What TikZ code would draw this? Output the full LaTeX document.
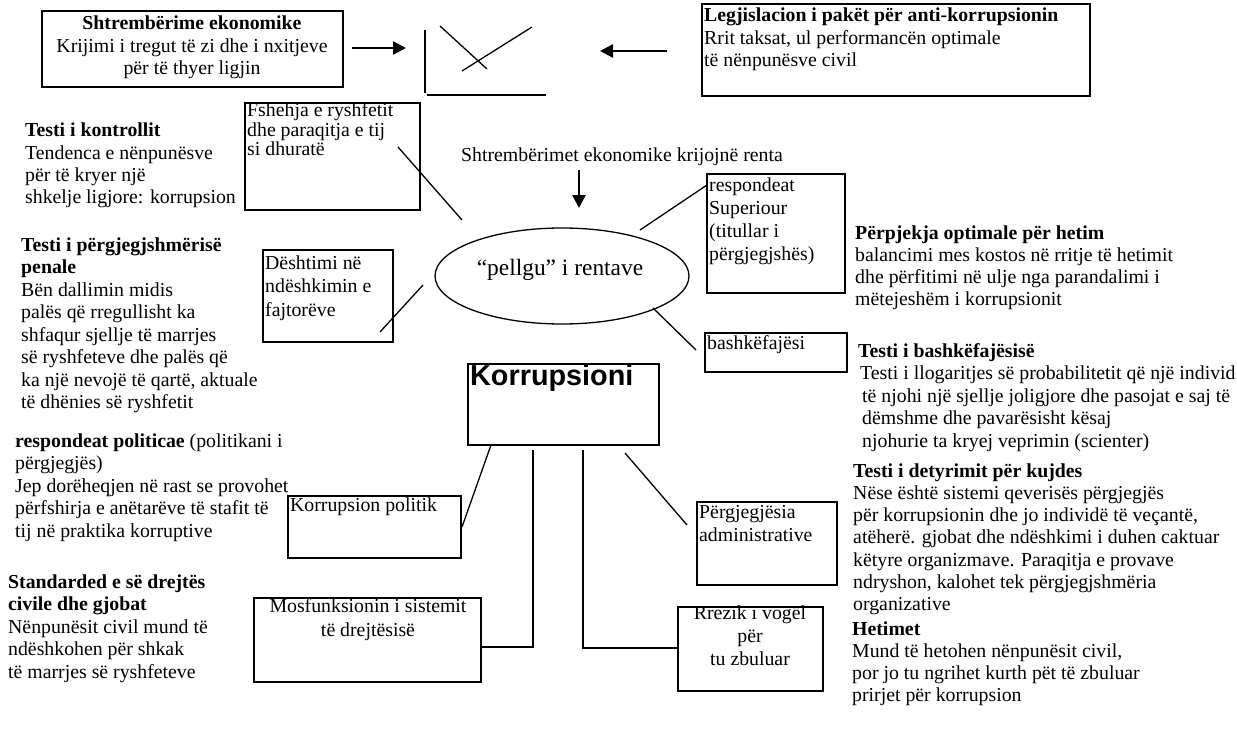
\documentclass[tikz,border=0pt]{standalone}
\usepackage{fontspec}
\setmainfont{Liberation Serif}
\newfontfamily\lsans{Liberation Sans}
\usetikzlibrary{shapes.geometric, arrows.meta, fit}
\newcommand{\tl}[2][22.3]{\vtop{\baselineskip=#1pt\relax\halign{##\hfil\cr#2\crcr}}}
\newcommand{\tc}[2][22.3]{\vtop{\baselineskip=#1pt\relax\halign{\hfil##\hfil\cr#2\crcr}}}
\tikzset{
  bx/.style={draw, line width=1.5pt, inner sep=0pt, rectangle},
  conn/.style={line width=1.3pt},
  txt/.style={inner sep=0pt, anchor=base west, font=\fontsize{19.8}{22.3}\selectfont},
  txtc/.style={inner sep=0pt, anchor=base, font=\fontsize{19.8}{22.3}\selectfont},
  bigarrow/.style={line width=2.6pt, -{Triangle[length=13pt,width=13pt]}},
}
\begin{document}
\begin{tikzpicture}[x=1pt,y=-1pt]
\useasboundingbox (0,0) rectangle (1237,733);

% ---------- top row ----------
\node[bx, fit={(42,11)(343,87)}] (shtr) {};
\node[txtc] (shtrT) at (192,30) {\tc[22.5]{\textbf{Shtrembërime ekonomike}\cr Krijimi i tregut të zi dhe i nxitjeve\cr për të thyer ligjin}};

\node[bx, fit={(702,4)(1090,96)}] (legj) {};
\node[txt] (legjT) at (704,22) {\tl[22.5]{\textbf{Legjislacion i pakët për anti-korrupsionin}\cr Rrit taksat, ul performancën optimale\cr të nënpunësve civil}};

\coordinate (a1s) at (352,48); \coordinate (a1e) at (406,48);
\draw[bigarrow] (a1s) -- (a1e);
\coordinate (a2s) at (667,51); \coordinate (a2e) at (600,51);
\draw[bigarrow] (a2s) -- (a2e);

% chart
\coordinate (ch0) at (425,30); \coordinate (ch1) at (425,93);
\coordinate (ch2) at (427,95); \coordinate (ch3) at (546,95);
\coordinate (la1) at (440,26); \coordinate (la2) at (487,69);
\coordinate (lb1) at (462,71); \coordinate (lb2) at (532,27);
\draw[conn] (ch0) -- (ch1);
\draw[conn] (ch2) -- (ch3);
\draw[conn] (la1) -- (la2);
\draw[conn] (lb1) -- (lb2);

% ---------- centre ----------
\node[bx, fit={(245,103)(420,210)}] (fsh) {};
\node[txt] (fshT) at (247,117) {\tl[19.5]{Fshehja e ryshfetit\cr dhe paraqitja e tij\cr si dhuratë}};

\node[txtc] (rentaT) at (622,161) {Shtrembërimet ekonomike krijojnë renta};
\coordinate (a3s) at (579,170); \coordinate (a3e) at (579,208);
\draw[bigarrow] (a3s) -- (a3e);

\node[draw, ellipse, line width=1.3pt, inner sep=0pt, minimum width=254pt, minimum height=96pt] (ell) at (562,276) {};
\node[inner sep=0pt, anchor=base, font=\fontsize{23.4}{26}\selectfont] (ellT) at (560,275) {“pellgu” i rentave};

\node[bx, fit={(707,174)(845,293)}] (resp) {};
\node[txt] (respT) at (709,191) {\tl[23.3]{respondeat\cr Superiour\cr (titullar i\cr përgjegjshës)}};

\node[bx, fit={(705,333)(847,372)}] (bash) {};
\node[txt] (bashT) at (707,349) {bashkëfajësi};

\node[bx, fit={(263,250)(393,342)}] (desh) {};
\node[txt] (deshT) at (265,269) {\tl[23.5]{Dështimi në\cr ndëshkimin e\cr fajtorëve}};

\coordinate (c1a) at (398,147); \coordinate (c1b) at (462,220);
\draw[conn] (c1a) -- (c1b);
\coordinate (c2a) at (380,332); \coordinate (c2b) at (423,285);
\draw[conn] (c2a) -- (c2b);
\coordinate (c3a) at (640,230); \coordinate (c3b) at (707,185);
\draw[conn] (c3a) -- (c3b);
\coordinate (c4a) at (653,308); \coordinate (c4b) at (696,350);
\draw[conn] (c4a) -- (c4b);

% ---------- bottom ----------
\node[bx, fit={(468,364)(659,445)}] (korr) {};
\node[inner sep=0pt, anchor=base west, font=\lsans\bfseries\fontsize{28.8}{32}\selectfont] (korrT) at (470,385) {Korrupsioni};

\node[bx, fit={(288,496)(461,558)}] (pol) {};
\node[txt] (polT) at (290,511) {Korrupsion politik};

\node[bx, fit={(254,598)(481,682)}] (mos) {};
\node[txtc] (mosT) at (368,612) {\tc[24]{Mosfunksionin i sistemit\cr të drejtësisë}};

\node[bx, fit={(678,607)(823,691)}] (rrez) {};
\node[txtc] (rrezT) at (750,619) {\tc[23]{Rrezik i vogël\cr për\cr tu zbuluar}};

\node[bx, fit={(697,502)(837,585)}] (perg) {};
\node[txt] (pergT) at (699,518) {\tl[23]{Përgjegjësia\cr administrative}};

\coordinate (k1a) at (491,445); \coordinate (k1b) at (462,527);
\draw[conn] (k1a) -- (k1b);
\coordinate (k2a) at (533,450); \coordinate (k2b) at (533,647); \coordinate (k2c) at (481,647);
\draw[conn] (k2a) -- (k2b) -- (k2c);
\coordinate (k3a) at (583,450); \coordinate (k3b) at (583,648); \coordinate (k3c) at (678,648);
\draw[conn] (k3a) -- (k3b) -- (k3c);
\coordinate (k4a) at (625,453); \coordinate (k4b) at (687,525);
\draw[conn] (k4a) -- (k4b);

% ---------- left column ----------
\node[txt] (L1) at (25,137) {\tl{\textbf{Testi i kontrollit}\cr Tendenca e nënpunësve\cr për të kryer një\cr shkelje ligjore: korrupsion}};
\node[txt] (L2) at (21,251) {\tl[22.5]{\textbf{Testi i përgjegjshmërisë}\cr \textbf{penale}\cr Bën dallimin midis\cr palës që rregullisht ka\cr shfaqur sjellje të marrjes\cr së ryshfeteve dhe palës që\cr ka një nevojë të qartë, aktuale\cr të dhënies së ryshfetit}};
\node[txt] (L3) at (15,447) {\tl[22.5]{\textbf{respondeat politicae} (politikani i\cr përgjegjës)\cr Jep dorëheqjen në rast se provohet\cr përfshirja e anëtarëve të stafit të\cr tij në praktika korruptive}};
\node[txt] (L4) at (8,588) {\tl[22.5]{\textbf{Standarded e së drejtës}\cr \textbf{civile dhe gjobat}\cr Nënpunësit civil mund të\cr ndëshkohen për shkak\cr të marrjes së  ryshfeteve}};

% ---------- right column ----------
\node[txt] (R1) at (855,239) {\tl{\textbf{Përpjekja optimale për hetim}\cr balancimi mes kostos në rritje të hetimit\cr dhe përfitimi në ulje nga parandalimi i\cr mëtejeshëm i korrupsionit}};
\node[txt] (R2) at (858,357) {\tl[22.5]{\textbf{Testi i bashkëfajësisë}\cr \kern2pt Testi i llogaritjes së probabilitetit që një individ\cr \kern4pt të njohi një sjellje joligjore dhe pasojat e saj të\cr \kern4pt dëmshme  dhe pavarësisht kësaj\cr \kern4pt njohurie ta kryej veprimin   (scienter)}};
\node[txt] (R3) at (853,477) {\tl[22.3]{\textbf{Testi i detyrimit për kujdes}\cr Nëse është sistemi qeverisës përgjegjës\cr për korrupsionin dhe jo individë të veçantë,\cr atëherë. gjobat dhe ndëshkimi i duhen  caktuar\cr këtyre organizmave.  Paraqitja e provave\cr ndryshon, kalohet  tek përgjegjshmëria\cr organizative}};
\node[txt] (R4) at (852,635) {\tl[22.3]{\textbf{Hetimet}\cr Mund të hetohen nënpunësit civil,\cr por jo tu ngrihet kurth pët të zbuluar\cr prirjet për korrupsion}};
\end{tikzpicture}
\end{document}
